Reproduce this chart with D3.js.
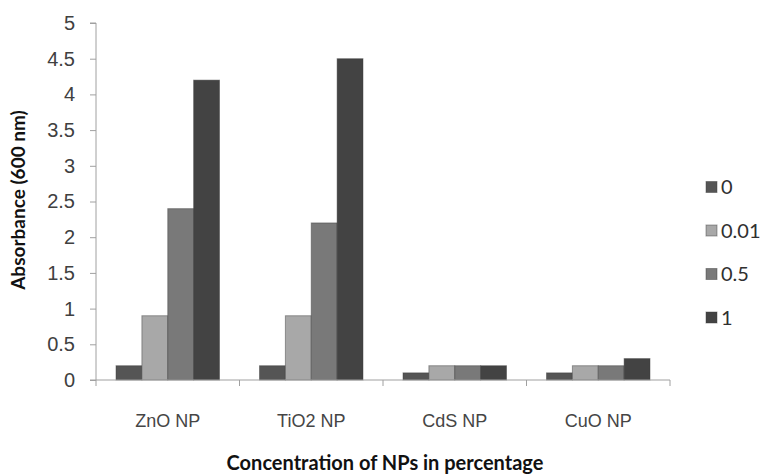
<!DOCTYPE html>
<html>
<head>
<meta charset="utf-8">
<script src="https://cdn.jsdelivr.net/npm/d3@7/dist/d3.min.js"></script>
<style>
  html, body { margin: 0; padding: 0; background: #fff; }
  svg { display: block; font-family: Lato, "Open Sans", sans-serif; }
</style>
</head>
<body>
<svg id="chart" width="764" height="476"></svg>
<script>
// Absorbance at 600 nm per nanoparticle type and concentration
const categories = ["ZnO NP", "TiO2 NP", "CdS NP", "CuO NP"];
const seriesNames = ["0", "0.01", "0.5", "1"];
const values0   = [0.2, 0.2, 0.1, 0.1];
const values001 = [0.9, 0.9, 0.2, 0.2];
const values05  = [2.4, 2.2, 0.2, 0.2];
const values1   = [4.2, 4.5, 0.2, 0.3];
const yTicks = [0, 0.5, 1, 1.5, 2, 2.5, 3, 3.5, 4, 4.5, 5];
const colors = ["#555555", "#a8a8a8", "#797979", "#434343"];

const seriesValues = [values0, values001, values05, values1];

const svg = d3.select("#chart");
const margin = { left: 96, right: 94, top: 23, bottom: 96 };
const width = 764 - margin.left - margin.right;
const height = 476 - margin.top - margin.bottom;

const g = svg.append("g").attr("transform", `translate(${margin.left},${margin.top})`);

const x0 = d3.scaleBand().domain(categories).range([0, width]).paddingInner(0).paddingOuter(0);
const x1 = d3.scaleBand().domain(seriesNames).range([20, x0.bandwidth() - 20]).padding(0);
const y = d3.scaleLinear().domain([0, 5]).range([height, 0]);

// y axis
const yAxis = g.append("g")
  .call(d3.axisLeft(y).tickValues(yTicks).tickFormat(d3.format("")).tickSize(6).tickPadding(15));
yAxis.select(".domain").attr("stroke", "#a0a0a0").attr("d", `M-6,${height}H0V0H-6`);
yAxis.selectAll(".tick line").attr("stroke", "#a0a0a0");
yAxis.selectAll(".tick text").attr("fill", "#404040").style("font-size", "20px");

// bars
const groups = g.selectAll("g.cat")
  .data(categories)
  .join("g")
  .attr("class", "cat")
  .attr("transform", d => `translate(${x0(d)},0)`);

groups.selectAll("rect")
  .data((c, i) => seriesNames.map((s, j) => ({ s, j, v: seriesValues[j][i] })))
  .join("rect")
  .attr("x", d => x1(d.s))
  .attr("width", x1.bandwidth())
  .attr("y", d => y(d.v))
  .attr("height", d => height - y(d.v))
  .attr("fill", d => colors[d.j])
  .attr("stroke", "#3a3a3a")
  .attr("stroke-opacity", 0.45)
  .attr("stroke-width", 1);

// x axis
const xAxis = g.append("g")
  .attr("transform", `translate(0,${height})`)
  .call(d3.axisBottom(x0).tickSize(0).tickPadding(34));
xAxis.select(".domain").attr("stroke", "#a0a0a0").attr("d", `M0,0H${width}`);
xAxis.selectAll(".tick text").attr("fill", "#454545").style("font-size", "18px");
// boundary ticks between categories
xAxis.selectAll("line.sep")
  .data(d3.range(categories.length + 1))
  .join("line")
  .attr("class", "sep")
  .attr("x1", i => i * x0.step())
  .attr("x2", i => i * x0.step())
  .attr("y1", 0).attr("y2", 6)
  .attr("stroke", "#a0a0a0");

// axis titles
svg.append("text")
  .attr("x", margin.left + width / 2 + 2)
  .attr("y", 470)
  .attr("text-anchor", "middle")
  .attr("fill", "#111")
  .style("font-size", "20px")
  .style("font-weight", "bold")
  .text("Concentration of NPs in percentage");

svg.append("text")
  .attr("transform", "translate(25,200) rotate(-90)")
  .attr("text-anchor", "middle")
  .attr("fill", "#111")
  .style("font-size", "19px")
  .style("font-weight", "bold")
  .text("Absorbance (600 nm)");

// legend
const legend = svg.append("g").attr("transform", "translate(706,0)");
const rows = legend.selectAll("g")
  .data(seriesNames)
  .join("g")
  .attr("transform", (d, i) => `translate(0,${187 + i * 43.5})`);
rows.append("rect")
  .attr("x", 0).attr("y", -5.5)
  .attr("width", 11).attr("height", 11)
  .attr("fill", (d, i) => colors[i])
  .attr("stroke", "#3a3a3a").attr("stroke-opacity", 0.45);
rows.append("text")
  .attr("x", 15).attr("y", 0)
  .attr("dy", "0.36em")
  .attr("fill", "#303030")
  .style("font-size", "20px")
  .text(d => d);
</script>
</body>
</html>
